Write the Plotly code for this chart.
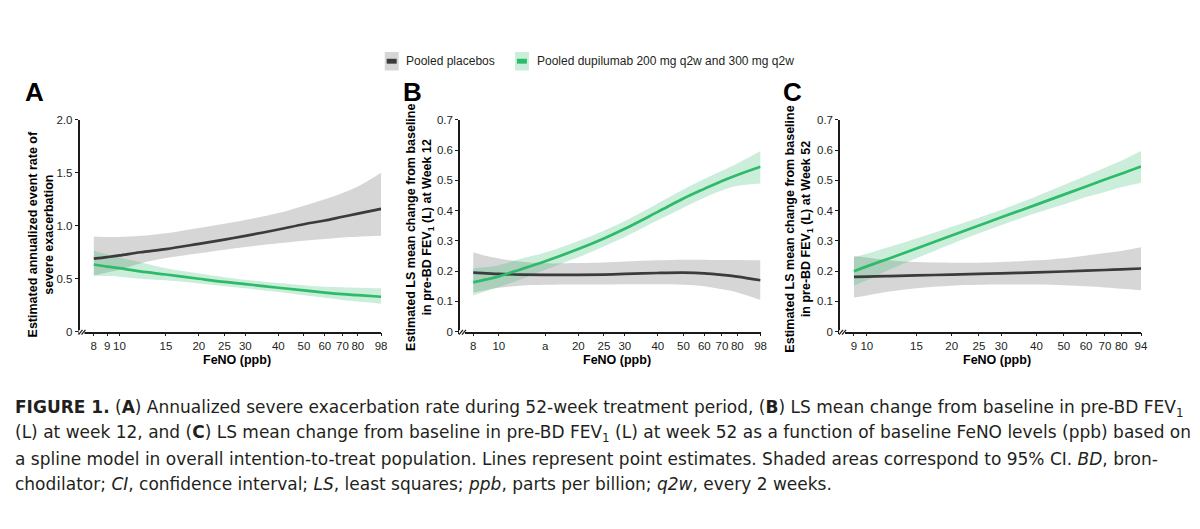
import plotly.graph_objects as go

# ---------------- data ----------------
feno_A = [8, 9, 10, 12, 15, 20, 25, 30, 40, 50, 60, 70, 80, 98]
placebo_A = [0.69, 0.705, 0.72, 0.75, 0.78, 0.83, 0.87, 0.905, 0.965, 1.015, 1.05, 1.085, 1.115, 1.16]
placebo_A_lo = [0.53, 0.56, 0.585, 0.645, 0.695, 0.74, 0.775, 0.80, 0.835, 0.86, 0.875, 0.89, 0.897, 0.905]
placebo_A_hi = [0.90, 0.895, 0.895, 0.905, 0.93, 0.98, 1.02, 1.055, 1.12, 1.19, 1.25, 1.31, 1.37, 1.50]
dupi_A = [0.635, 0.615, 0.60, 0.57, 0.54, 0.50, 0.47, 0.45, 0.415, 0.39, 0.37, 0.355, 0.345, 0.33]
dupi_A_lo = [0.53, 0.525, 0.52, 0.50, 0.485, 0.455, 0.43, 0.41, 0.375, 0.345, 0.32, 0.30, 0.285, 0.265]
dupi_A_hi = [0.765, 0.73, 0.70, 0.655, 0.60, 0.55, 0.515, 0.49, 0.46, 0.44, 0.425, 0.42, 0.415, 0.41]

feno_B = [8, 9, 10, 12, 15, 20, 25, 30, 40, 50, 60, 70, 80, 98]
placebo_B = [0.195, 0.193, 0.191, 0.189, 0.188, 0.188, 0.189, 0.191, 0.194, 0.195, 0.193, 0.188, 0.182, 0.17]
placebo_B_lo = [0.13, 0.138, 0.145, 0.152, 0.155, 0.156, 0.156, 0.157, 0.157, 0.155, 0.15, 0.14, 0.13, 0.105]
placebo_B_hi = [0.263, 0.25, 0.242, 0.232, 0.226, 0.227, 0.229, 0.232, 0.236, 0.238, 0.238, 0.237, 0.237, 0.236]
dupi_B = [0.163, 0.173, 0.183, 0.205, 0.233, 0.273, 0.308, 0.34, 0.396, 0.44, 0.472, 0.498, 0.518, 0.545]
dupi_B_lo = [0.12, 0.135, 0.148, 0.172, 0.205, 0.246, 0.282, 0.313, 0.368, 0.41, 0.443, 0.467, 0.482, 0.49]
dupi_B_hi = [0.21, 0.214, 0.22, 0.24, 0.262, 0.30, 0.334, 0.366, 0.424, 0.47, 0.505, 0.532, 0.556, 0.597]

feno_C = [9, 10, 12, 15, 20, 25, 30, 40, 50, 60, 70, 80, 94]
placebo_C = [0.181, 0.182, 0.184, 0.186, 0.189, 0.191, 0.193, 0.196, 0.199, 0.202, 0.204, 0.206, 0.209]
placebo_C_lo = [0.113, 0.12, 0.133, 0.144, 0.152, 0.155, 0.156, 0.156, 0.154, 0.15, 0.146, 0.142, 0.137]
placebo_C_hi = [0.25, 0.245, 0.236, 0.23, 0.228, 0.228, 0.23, 0.236, 0.243, 0.252, 0.26, 0.267, 0.279]
dupi_C = [0.200, 0.216, 0.242, 0.275, 0.318, 0.351, 0.378, 0.420, 0.453, 0.480, 0.503, 0.522, 0.546]
dupi_C_lo = [0.153, 0.17, 0.205, 0.243, 0.29, 0.325, 0.352, 0.392, 0.42, 0.445, 0.462, 0.477, 0.492]
dupi_C_hi = [0.245, 0.258, 0.28, 0.308, 0.347, 0.377, 0.403, 0.448, 0.485, 0.515, 0.542, 0.565, 0.597]

ticks_A = [8, 9, 10, 15, 20, 25, 30, 40, 50, 60, 70, 80, 98]
ticklabels_A = ["8", "9", "10", "15", "20", "25", "30", "40", "50", "60", "70", "80", "98"]
ticks_B = [8, 10, 15, 20, 25, 30, 40, 50, 60, 70, 80, 98]
ticklabels_B = ["8", "10", "a", "20", "25", "30", "40", "50", "60", "70", "80", "98"]
ticks_C = [9, 10, 15, 20, 25, 30, 40, 50, 60, 70, 80, 94]
ticklabels_C = ["9", "10", "15", "20", "25", "30", "40", "50", "60", "70", "80", "94"]

yticks_A = [0, 0.5, 1.0, 1.5, 2.0]
ylabels_A = ["0", "0.5", "1.0", "1.5", "2.0"]
yticks_BC = [0, 0.1, 0.2, 0.3, 0.4, 0.5, 0.6, 0.7]
ylabels_BC = ["0", "0.1", "0.2", "0.3", "0.4", "0.5", "0.6", "0.7"]

legend_names = ["Pooled placebos", "Pooled dupilumab 200 mg q2w and 300 mg q2w"]
panel_letters = ["A", "B", "C"]
y_titles = [
    "Estimated annualized event rate of<br>severe exacerbation",
    "Estimated LS mean change from baseline<br>in pre-BD FEV<sub>1</sub> (L) at Week 12",
    "Estimated LS mean change from baseline<br>in pre-BD FEV<sub>1</sub> (L) at Week 52",
]
x_title = "FeNO (ppb)"
caption_lines = [
    "<b>FIGURE 1.</b> (<b>A</b>) Annualized severe exacerbation rate during 52-week treatment period, (<b>B</b>) LS mean change from baseline in pre-BD FEV<sub>1</sub>",
    "(L) at week 12, and (<b>C</b>) LS mean change from baseline in pre-BD FEV<sub>1</sub> (L) at week 52 as a function of baseline FeNO levels (ppb) based on",
    "a spline model in overall intention-to-treat population. Lines represent point estimates. Shaded areas correspond to 95% CI. <i>BD</i>, bron-",
    "chodilator; <i>CI</i>, confidence interval; <i>LS</i>, least squares; <i>ppb</i>, parts per billion; <i>q2w</i>, every 2 weeks.",
]

# ---------------- style ----------------
W, H = 1200, 529
GRAY_LINE = "#3b3b3b"
GRAY_BAND = "rgba(0,0,0,0.16)"
GREEN_LINE = "#2dbb6a"
GREEN_BAND = "rgba(45,187,106,0.25)"
FONT = "Liberation Sans, Arial, sans-serif"
CAP_FONT = "DejaVu Sans, sans-serif"
TXT = "#231f20"


def px(x):
    return x / W


def py(y):
    return 1 - y / H


fig = go.Figure()

panels = [
    dict(x=feno_A, pl=placebo_A, pl_lo=placebo_A_lo, pl_hi=placebo_A_hi,
         du=dupi_A, du_lo=dupi_A_lo, du_hi=dupi_A_hi,
         xdom=(80, 383.3), xr=(0.849, 1.9912), yr=(0, 2.0),
         tv=ticks_A, tt=ticklabels_A, ytv=yticks_A, ytt=ylabels_A,
         letter_x=35, ytitle_x=41, ytitle_y=234),
    dict(x=feno_B, pl=placebo_B, pl_lo=placebo_B_lo, pl_hi=placebo_B_hi,
         du=dupi_B, du_lo=dupi_B_lo, du_hi=dupi_B_hi,
         xdom=(462.7, 765), xr=(0.853, 1.9912), yr=(0, 0.7),
         tv=ticks_B, tt=ticklabels_B, ytv=yticks_BC, ytt=ylabels_BC,
         letter_x=415, ytitle_x=422.5, ytitle_y=227),
    dict(x=feno_C, pl=placebo_C, pl_lo=placebo_C_lo, pl_hi=placebo_C_hi,
         du=dupi_C, du_lo=dupi_C_lo, du_hi=dupi_C_hi,
         xdom=(845, 1147.7), xr=(0.905, 1.9731), yr=(0, 0.7),
         tv=ticks_C, tt=ticklabels_C, ytv=yticks_BC, ytt=ylabels_BC,
         letter_x=797, ytitle_x=803.5, ytitle_y=228),
]

Y_TOP, Y_BOT = 116.5, 333.3
annotations = []
shapes = []

for i, p in enumerate(panels):
    n = "" if i == 0 else str(i + 1)
    xa, ya = "x" + n, "y" + n
    # bands
    for lo, hi, col in [(p["pl_lo"], p["pl_hi"], GRAY_BAND), (p["du_lo"], p["du_hi"], GREEN_BAND)]:
        fig.add_trace(go.Scatter(x=p["x"], y=lo, mode="lines", line=dict(width=0, shape="spline"),
                                 xaxis=xa, yaxis=ya, showlegend=False, hoverinfo="skip"))
        fig.add_trace(go.Scatter(x=p["x"], y=hi, mode="lines", line=dict(width=0, shape="spline"),
                                 fill="tonexty", fillcolor=col,
                                 xaxis=xa, yaxis=ya, showlegend=False, hoverinfo="skip"))
    # lines
    fig.add_trace(go.Scatter(x=p["x"], y=p["pl"], mode="lines", name=legend_names[0],
                             line=dict(color=GRAY_LINE, width=2.7, shape="spline"),
                             xaxis=xa, yaxis=ya, showlegend=False))
    fig.add_trace(go.Scatter(x=p["x"], y=p["du"], mode="lines", name=legend_names[1],
                             line=dict(color=GREEN_LINE, width=2.7, shape="spline"),
                             xaxis=xa, yaxis=ya, showlegend=False))

    axis_common = dict(showline=True, linecolor="#1a1a1a", linewidth=1.5, showgrid=False,
                       zeroline=False, ticks="outside", tickcolor="#1a1a1a", tickwidth=1.2,
                       ticklen=3, tickfont=dict(family=FONT, size=11.5, color=TXT))
    fig.update_layout(**{
        "xaxis" + n: dict(axis_common, type="log", range=list(p["xr"]),
                          domain=[px(p["xdom"][0]), px(p["xdom"][1])],
                          tickvals=p["tv"], ticktext=p["tt"], anchor=ya),
        "yaxis" + n: dict(axis_common, range=list(p["yr"]), domain=[py(Y_BOT), py(Y_TOP)],
                          tickvals=p["ytv"], ticktext=p["ytt"], anchor=xa),
    })

    # panel letter
    annotations.append(dict(text="<b>%s</b>" % panel_letters[i], x=px(p["letter_x"]), y=py(88),
                            xref="paper", yref="paper", xanchor="center", yanchor="middle",
                            showarrow=False, font=dict(family=FONT, size=26, color="#000")))
    # y title
    annotations.append(dict(text="<b>%s</b>" % y_titles[i], x=px(p["ytitle_x"]), y=py(p["ytitle_y"]),
                            xref="paper", yref="paper", xanchor="center", yanchor="middle",
                            showarrow=False, textangle=-90,
                            font=dict(family=FONT, size=12.5, color="#000")))
    # x title
    xc = (p["xdom"][0] + p["xdom"][1]) / 2 + 7
    annotations.append(dict(text="<b>%s</b>" % x_title, x=px(xc), y=py(362),
                            xref="paper", yref="paper", xanchor="center", yanchor="middle",
                            showarrow=False, font=dict(family=FONT, size=12.5, color="#000")))
    # axis break marks
    x0 = p["xdom"][0]
    shapes.append(dict(type="line", xref="paper", yref="paper",
                       x0=px(x0 - 1), y0=py(Y_BOT + 0.5), x1=px(x0 + 5), y1=py(Y_BOT + 0.5),
                       line=dict(color="white", width=4)))
    for dx in (0, 3):
        shapes.append(dict(type="line", xref="paper", yref="paper",
                           x0=px(x0 - 1 + dx), y0=py(Y_BOT + 3), x1=px(x0 + 3 + dx), y1=py(Y_BOT - 2),
                           line=dict(color="#1a1a1a", width=1.2)))

# legend (drawn manually)
leg = [(387, 401, 406, GRAY_BAND, GRAY_LINE), (518, 532, 538, GREEN_BAND, GREEN_LINE)]
for (sx0, sx1, tx, band, line), name in zip(leg, legend_names):
    shapes.append(dict(type="rect", xref="paper", yref="paper", x0=px(sx0), x1=px(sx1),
                       y0=py(66), y1=py(47), fillcolor=band, line=dict(width=0)))
    shapes.append(dict(type="rect", xref="paper", yref="paper", x0=px(sx0 + 2), x1=px(sx1 - 2),
                       y0=py(59), y1=py(54), fillcolor=line, line=dict(width=0)))
    annotations.append(dict(text=name, x=px(tx), y=py(56.5), xref="paper", yref="paper",
                            xanchor="left", yanchor="middle", showarrow=False,
                            font=dict(family=FONT, size=12, color=TXT)))

# caption
for k, line in enumerate(caption_lines):
    annotations.append(dict(text=line, x=px(13), y=py(412 + 25.7 * k), xref="paper", yref="paper",
                            xanchor="left", yanchor="middle", showarrow=False,
                            font=dict(family=CAP_FONT, size=17, color=TXT)))

fig.update_layout(width=W, height=H, margin=dict(l=0, r=0, t=0, b=0),
                  paper_bgcolor="white", plot_bgcolor="white", showlegend=False,
                  annotations=annotations, shapes=shapes)

fig.write_html("out.html")
